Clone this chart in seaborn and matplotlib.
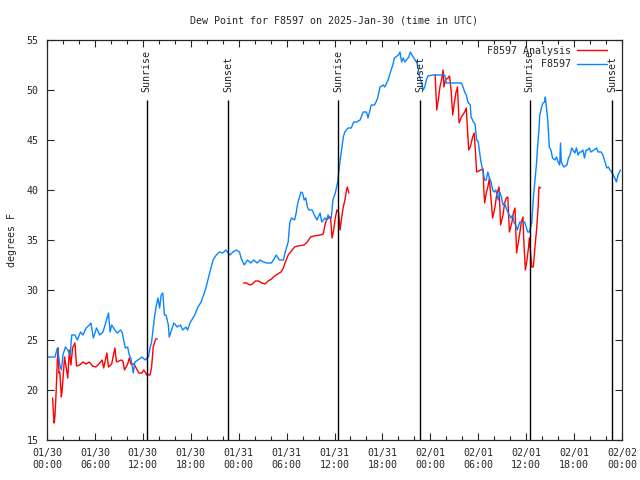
import numpy as np
import pandas as pd
import seaborn as sns
import matplotlib.pyplot as plt
import matplotlib.dates as mdates
from matplotlib.lines import Line2D

# hours after 2025-01-30 00:00 UTC, dew point in F
obs_hours = [0.1, 1.0, 1.3, 1.6, 1.8, 2.0, 2.3, 2.6, 2.9, 3.1, 3.5, 3.8, 4.2, 4.5, 4.9, 5.3, 5.5, 5.8,
             6.2, 6.6, 7.0, 7.2, 7.7, 7.9, 8.1, 8.5, 8.8, 9.2, 9.4, 9.6, 9.8, 10.1, 10.3, 10.5, 10.8,
             11.0, 11.4, 11.9, 12.3, 12.5, 12.7, 12.9, 13.1, 13.3, 13.5, 13.7, 13.9, 14.1, 14.3, 14.5,
             14.7, 14.9, 15.2, 15.3, 15.6, 15.9, 16.3, 16.7, 17.0, 17.4, 17.6, 17.9, 18.5, 18.9, 19.3,
             19.9, 20.3, 20.8, 21.2, 21.6, 22.0, 22.4, 22.9, 23.3, 23.7, 24.1, 24.3, 24.7, 25.1, 25.5,
             25.9, 26.3, 26.7, 27.1, 27.5, 28.1, 28.5, 28.7, 29.1, 29.6, 29.8, 30.2, 30.4, 30.6, 31.0,
             31.2, 31.4, 31.8, 32.0, 32.2, 32.4, 32.6, 32.8, 33.2, 33.6, 33.8, 34.2, 34.4, 34.8, 35.0,
             35.2, 35.4, 35.6, 35.8, 36.1, 36.4, 36.6, 36.8, 37.1, 37.3, 37.7, 38.1, 38.4, 38.8, 39.2,
             39.6, 40.0, 40.2, 40.6, 41.0, 41.2, 41.4, 41.7, 42.1, 42.3, 42.7, 42.9, 43.1, 43.3, 43.5,
             44.0, 44.2, 44.4, 44.6, 44.8, 45.3, 45.5, 45.7, 46.1, 46.3, 46.5, 46.7, 46.9, 47.1, 47.3,
             47.5, 47.7, 48.3, 49.2, 49.8, 50.0, 51.2, 51.9, 52.1, 52.3, 52.5, 52.7, 53.0, 53.1, 53.4,
             53.6, 53.8, 54.0, 54.3, 54.8, 55.0, 55.2, 55.4, 55.6, 55.8, 56.0, 56.2, 56.5, 56.7, 56.9,
             57.1, 57.3, 57.5, 57.7, 57.9, 58.1, 58.3, 58.5, 58.7, 58.9, 59.2, 59.6, 59.8, 60.0, 60.2,
             60.4, 60.7, 60.9, 61.1, 61.3, 61.4, 61.6, 61.7, 61.9, 62.1, 62.3, 62.4, 62.5, 62.7, 62.8,
             62.9, 63.1, 63.3, 63.6, 63.8, 64.0, 64.2, 64.3, 64.4, 64.7, 65.1, 65.3, 65.5, 65.7, 66.1,
             66.3, 66.5, 66.7, 66.9, 67.1, 67.3, 67.5, 67.7, 67.9, 68.1, 68.5, 68.8, 69.0, 69.4, 69.6,
             69.8, 70.1, 70.3, 70.5, 70.7, 70.9, 71.1, 71.3, 71.5, 71.8]
obs_dew = [23.3, 23.3, 24.2, 22.5, 22.0, 23.5, 24.3, 24.0, 23.5, 25.5, 25.5, 25.0, 25.8, 25.5, 26.2, 26.5, 26.7, 25.2,
           26.2, 25.5, 25.8, 26.3, 27.7, 25.8, 26.5, 26.0, 25.7, 26.0, 25.8, 25.0, 24.2, 24.3, 23.5, 23.2, 21.7,
           22.8, 23.0, 23.3, 23.0, 23.2, 23.3, 24.2, 24.8, 26.2, 27.5, 28.5, 29.2, 28.2, 29.5, 29.7,
           27.5, 27.5, 26.5, 25.3, 26.0, 26.7, 26.3, 26.5, 26.0, 26.3, 26.0, 26.7, 27.5, 28.3, 28.8,
           30.2, 31.5, 33.0, 33.5, 33.8, 33.7, 34.0, 33.5, 33.8, 34.0, 33.8, 33.2, 32.5, 33.0, 32.7,
           33.0, 32.7, 33.0, 32.8, 32.7, 32.7, 33.2, 33.5, 33.0, 33.0, 33.7, 34.8, 36.7, 37.2, 37.0,
           37.7, 38.7, 39.8, 39.7, 39.0, 39.2, 38.3, 38.0, 38.0, 37.3, 37.0, 37.7, 36.8, 37.2, 37.0,
           37.5, 37.2, 37.2, 39.0, 39.7, 40.8, 42.3, 43.5, 45.3, 45.8, 46.2, 46.2, 46.8, 46.8, 47.0,
           47.8, 47.8, 47.2, 48.5, 48.5, 48.8, 49.2, 50.3, 50.5, 50.3, 51.0, 51.5, 52.0, 52.5, 53.2,
           53.5, 53.8, 52.8, 53.2, 52.8, 53.3, 53.8, 53.5, 53.0, 52.8, 52.0, 51.2, 50.7, 50.0, 50.3,
           51.0, 51.4, 51.5, 51.5, 51.5, 50.7, 50.7, 50.7, 50.3, 49.8, 49.5, 48.8, 48.5, 47.3, 46.8,
           46.6, 45.0, 44.8, 43.0, 41.0, 41.0, 41.8, 41.2, 40.8, 40.0, 39.8, 40.0, 39.0, 39.8, 39.3,
           38.5, 38.7, 38.2, 37.8, 37.5, 37.2, 37.5, 36.7, 36.5, 36.0, 36.8, 36.8, 36.8, 36.3, 35.8,
           35.8, 36.7, 39.2, 41.0, 42.7, 44.0, 46.0, 47.5, 48.2, 48.7, 48.8, 49.3, 48.5, 47.0, 45.7,
           44.3, 44.0, 43.2, 43.0, 43.3, 42.8, 42.5, 44.7, 42.8, 42.3, 42.5, 43.2, 43.5, 44.2, 43.7,
           44.2, 43.5, 43.8, 43.8, 44.0, 43.2, 44.0, 44.0, 44.2, 43.8, 44.0, 44.2, 43.8, 43.8, 43.5,
           43.0, 42.2, 42.3, 42.0, 41.8, 41.5, 41.2, 40.8, 41.5, 42.0]

# analysis series, None marks a gap
ana_hours = [0.7, 0.8, 0.9, 1.0, 1.1, 1.3, 1.4, 1.5, 1.6, 1.8, 1.9, 2.2, 2.6, 2.8, 3.0, 3.2, 3.5, 3.7, 4.1,
             4.5, 4.9, 5.3, 5.7, 6.1, 6.5, 6.9, 7.1, 7.5, 7.7, 8.1, 8.5, 8.7, 9.3, 9.5, 9.7, 10.1, 10.3,
             10.5, 10.9, 11.5, 11.9, 12.1, 12.3, 12.5, 12.9, 13.1, 13.3, 13.6, 13.8, None,
             24.6, 25.0, 25.4, 25.7, 26.1, 26.5, 26.9, 27.3, 27.7, 28.1, 28.5, 28.9, 29.3, 29.6, 29.8,
             30.2, 30.6, 31.0, 31.4, 32.2, 32.6, 33.0, 33.4, 34.2, 34.6, 34.8, 35.0, 35.4, 35.5, 35.7,
             35.9, 36.1, 36.3, 36.5, 36.7, 36.9, 37.1, 37.3, 37.5, 37.6, 37.8, None,
             48.6, 48.8, 49.0, 49.2, 49.4, 49.6, 49.7, 49.9, 50.2, 50.4, 50.6, 50.8, 51.0, 51.2, 51.4,
             51.6, 51.9, 52.3, 52.5, 52.8, 53.0, 53.3, 53.5, 53.8, 54.3, 54.6, 54.7, 54.8, 55.0, 55.2,
             55.4, 55.5, 55.8, 56.1, 56.3, 56.6, 56.8, 57.1, 57.3, 57.5, 57.7, 57.9, 58.2, 58.4, 58.6,
             58.8, 59.0, 59.2, 59.4, 59.6, 59.7, 59.9, 60.1, 60.3, 60.4, 60.7, 60.9, 61.1, 61.3, 61.5,
             61.6, 61.8]
ana_dew = [19.2, 17.8, 16.7, 17.5, 19.0, 23.0, 24.2, 21.7, 21.8, 19.3, 20.0, 23.3, 21.2, 24.0, 22.5, 24.2, 24.7, 22.4, 22.5,
           22.8, 22.6, 22.8, 22.4, 22.3, 22.6, 23.0, 22.2, 23.7, 22.3, 22.6, 24.2, 22.8, 23.0, 22.9, 22.0, 22.6, 23.2,
           22.6, 22.6, 21.7, 21.7, 22.0, 21.8, 21.5, 21.5, 22.3, 24.3, 25.1, 25.1, None,
           30.7, 30.7, 30.5, 30.6, 30.9, 30.9, 30.7, 30.6, 30.9, 31.1, 31.4, 31.6, 31.8, 32.2, 32.7,
           33.5, 33.9, 34.3, 34.4, 34.5, 34.8, 35.3, 35.4, 35.5, 35.6, 36.5, 37.0, 37.3, 37.3, 35.2,
           36.0, 37.2, 38.0, 37.8, 36.0, 37.3, 38.3, 39.0, 40.0, 40.3, 39.7, None,
           51.5, 48.0, 49.0, 50.3, 51.0, 52.0, 50.3, 51.0, 51.2, 51.4, 50.0, 47.5, 48.7, 49.7, 50.3,
           46.7, 47.3, 47.8, 48.2, 44.0, 44.3, 45.3, 45.7, 41.8, 42.0, 42.1, 40.0, 38.7, 39.7, 40.3,
           41.2, 40.0, 37.2, 38.3, 39.5, 40.3, 36.5, 37.5, 38.7, 39.2, 39.3, 35.8, 36.7, 37.7, 38.2,
           33.7, 34.7, 35.7, 36.8, 37.3, 35.0, 32.0, 33.0, 34.3, 35.2, 32.3, 32.3, 34.3, 36.0, 38.3,
           40.3, 40.2]

sun_labels = ['Sunrise', 'Sunset', 'Sunrise', 'Sunset', 'Sunrise', 'Sunset']
sun_hours = [12.5, 22.7, 36.48, 46.72, 60.43, 70.75]

start = pd.Timestamp('2025-01-30 00:00')

obs = pd.DataFrame({'hours': obs_hours, 'dew': obs_dew})
obs['time'] = start + pd.to_timedelta(obs['hours'], unit='h')

ana = pd.DataFrame({'hours': ana_hours, 'dew': ana_dew}, dtype=float)
ana['seg'] = ana['hours'].isna().cumsum()
ana = ana.dropna()
ana['time'] = start + pd.to_timedelta(ana['hours'], unit='h')

sns.set_style('ticks')
plt.rcParams['font.family'] = ['DejaVu Sans Mono']
plt.rcParams['font.size'] = 7.2

red = '#ff0000'
blue = '#0a84ff'

fig = plt.figure(figsize=(6.4, 4.8), dpi=100)
ax = fig.add_axes([47 / 640, 40 / 480, 575 / 640, 400 / 480])

sns.lineplot(data=ana, x='time', y='dew', units='seg', estimator=None,
             color=red, lw=1.0, ax=ax)
sns.lineplot(data=obs, x='time', y='dew', color=blue, lw=1.0, ax=ax)

# sunrise / sunset markers
sun_times = [start + pd.Timedelta(hours=h) for h in sun_hours]
ax.vlines(sun_times, 15, 49, color='black', lw=1.0)
for t, lab in zip(sun_times, sun_labels):
    ax.text(t, 49.8, lab, rotation=90, ha='center', va='bottom', fontsize=7.2)

ax.set_xlim(start, start + pd.Timedelta(hours=72))
ax.set_ylim(15, 55)
ax.set_yticks(np.arange(15, 56, 5))
ax.xaxis.set_major_locator(mdates.HourLocator(byhour=[0, 6, 12, 18]))
ax.xaxis.set_minor_locator(mdates.HourLocator(interval=2))
ax.xaxis.set_major_formatter(mdates.DateFormatter('%m/%d\n%H:%M'))
ax.tick_params(which='both', direction='in', top=True, right=True, width=0.8, labelsize=7.2)
ax.tick_params(which='major', length=5, pad=6)
ax.tick_params(which='minor', length=3)
for s in ax.spines.values():
    s.set_linewidth(0.9)

ax.set_xlabel('')
ax.set_ylabel('degrees F', fontsize=7.2, labelpad=7)
ax.set_title('Dew Point for F8597 on 2025-Jan-30 (time in UTC)', fontsize=7.2, pad=12)

handles = [Line2D([], [], color=red, lw=1.0), Line2D([], [], color=blue, lw=1.0)]
ax.legend(handles, ['F8597 Analysis', '         F8597'], loc='upper right',
          bbox_to_anchor=(0.985, 1.0), frameon=False, markerfirst=False,
          handlelength=3.0, handletextpad=0.6, labelspacing=0.35, fontsize=7.2,
          borderaxespad=0.2)

fig.savefig('out.png', dpi=100)
